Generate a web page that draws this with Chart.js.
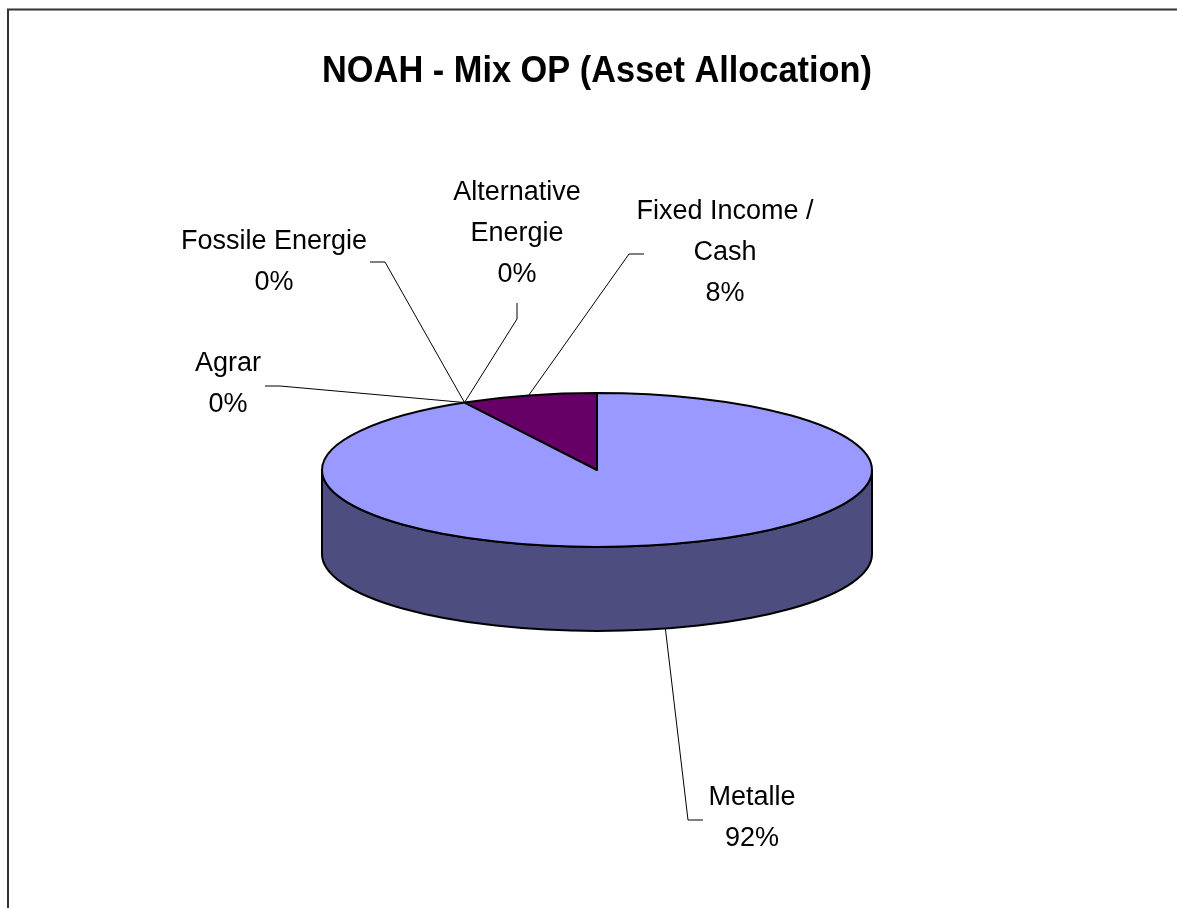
<!DOCTYPE html>
<html>
<head>
<meta charset="utf-8">
<script src="https://cdn.jsdelivr.net/npm/chart.js@4.4.0/dist/chart.umd.min.js"></script>
<style>
  html, body { margin: 0; padding: 0; background: #fff; }
  #wrap { width: 1177px; height: 908px; position: relative; }
</style>
</head>
<body>
<div id="wrap"><canvas id="pie"></canvas></div>
<script>
const categories = ['Metalle', 'Agrar', 'Fossile Energie', 'Alternative Energie', 'Fixed Income / Cash'];
const shares = [92, 0, 0, 0, 8];
const nameLines = [['Metalle'], ['Agrar'], ['Fossile Energie'], ['Alternative', 'Energie'], ['Fixed Income /', 'Cash']];
const topColors = ['#9999FF', '#993366', '#FFFFCC', '#CCFFFF', '#660066'];
const sideColors = ['#4D4D80', '#4D1A33', '#808066', '#668080', '#330033'];

// label box centre, elbow and end of leader, relative to pie centre
const labelLayout = [
  { cx: 155, cy: 348, elbow: [91, 350], end: [106, 350] },
  { cx: -369, cy: -86, elbow: [-317, -84], end: [-332, -84] },
  { cx: -323, cy: -208, elbow: [-212, -208], end: [-227, -208] },
  { cx: -80, cy: -236, elbow: [-80, -151], end: [-80, -167] },
  { cx: 128, cy: -217, elbow: [32, -216], end: [47, -216] }
];

const TILT = 0.28;
const DEPTH = 84;
const LINE_H = 41;

function arcPoint(arc, angle, front) {
  const r = arc.outerRadius;
  let y = arc.y + Math.sin(angle) * r * TILT;
  if (front && Math.sin(angle) > 0) y += DEPTH;
  return [arc.x + Math.cos(angle) * r, y];
}

function tilt(ctx, a) {
  ctx.translate(a.x, a.y);
  ctx.scale(1, TILT);
  ctx.translate(-a.x, -a.y);
}

const pie3d = {
  id: 'pie3d',
  beforeDraw(chart) {
    const ctx = chart.ctx;
    ctx.save();
    ctx.strokeStyle = '#333';
    ctx.lineWidth = 2;
    ctx.beginPath();
    ctx.moveTo(8, chart.height);
    ctx.lineTo(8, 9.5);
    ctx.lineTo(chart.width, 9.5);
    ctx.stroke();
    ctx.restore();
  },
  beforeDatasetsDraw(chart) {
    const ctx = chart.ctx;
    const arcs = chart.getDatasetMeta(0).data;
    ctx.save();
    ctx.lineWidth = 2;
    ctx.strokeStyle = '#000';
    ctx.lineJoin = 'round';
    arcs.forEach((arc, i) => {
      if (arc.circumference <= 0) return;
      for (let k = -1; k <= 1; k++) {
        const lo = Math.max(arc.startAngle, k * 2 * Math.PI);
        const hi = Math.min(arc.endAngle, k * 2 * Math.PI + Math.PI);
        if (hi <= lo) continue;
        const r = arc.outerRadius;
        ctx.beginPath();
        ctx.ellipse(arc.x, arc.y, r, r * TILT, 0, lo, hi, false);
        ctx.ellipse(arc.x, arc.y + DEPTH, r, r * TILT, 0, hi, lo, true);
        ctx.closePath();
        ctx.fillStyle = sideColors[i];
        ctx.fill();
        ctx.stroke();
      }
    });
    ctx.restore();
    ctx.save();
    tilt(ctx, arcs[0]);
  },
  afterDatasetsDraw(chart) {
    const ctx = chart.ctx;
    ctx.restore();
    const arcs = chart.getDatasetMeta(0).data;
    const a = arcs[0];
    ctx.save();
    tilt(ctx, a);
    ctx.beginPath();
    arcs.forEach((arc) => {
      if (arc.circumference <= 0) return;
      ctx.moveTo(arc.x, arc.y);
      ctx.arc(arc.x, arc.y, arc.outerRadius, arc.startAngle, arc.endAngle);
      ctx.closePath();
    });
    ctx.restore();
    ctx.save();
    ctx.lineWidth = 2;
    ctx.lineJoin = 'round';
    ctx.strokeStyle = '#000';
    ctx.stroke();

    // leader lines and labels
    ctx.lineWidth = 1;
    ctx.fillStyle = '#000';
    ctx.font = '27px "Liberation Sans", Arial, sans-serif';
    ctx.textAlign = 'center';
    ctx.textBaseline = 'middle';
    arcs.forEach((arc, i) => {
      const mid = (arc.startAngle + arc.endAngle) / 2;
      const p = arcPoint(arc, mid, true);
      const L = labelLayout[i];
      ctx.beginPath();
      ctx.moveTo(p[0], p[1]);
      ctx.lineTo(a.x + L.elbow[0], a.y + L.elbow[1]);
      ctx.lineTo(a.x + L.end[0], a.y + L.end[1]);
      ctx.stroke();
      const lines = nameLines[i].concat([shares[i] + '%']);
      lines.forEach((t, j) => {
        const y = a.y + L.cy + (j - (lines.length - 1) / 2) * LINE_H;
        ctx.fillText(t, a.x + L.cx, y);
      });
    });
    ctx.restore();
  }
};

new Chart(document.getElementById('pie'), {
  type: 'pie',
  data: {
    labels: categories,
    datasets: [{
      data: shares,
      backgroundColor: topColors,
      borderWidth: 0
    }]
  },
  options: {
    responsive: true,
    maintainAspectRatio: false,
    animation: false,
    events: [],
    layout: { padding: { left: 322, right: 305, top: 50, bottom: 163 } },
    plugins: {
      legend: { display: false },
      tooltip: { enabled: false },
      title: {
        display: true,
        text: 'NOAH - Mix OP (Asset Allocation)',
        color: '#000',
        font: { family: '"Liberation Sans", Arial, sans-serif', size: 37, weight: 'bold', lineHeight: 1.2 },
        padding: { top: 0, bottom: 100.6 }
      }
    }
  },
  plugins: [pie3d]
});
</script>
</body>
</html>
